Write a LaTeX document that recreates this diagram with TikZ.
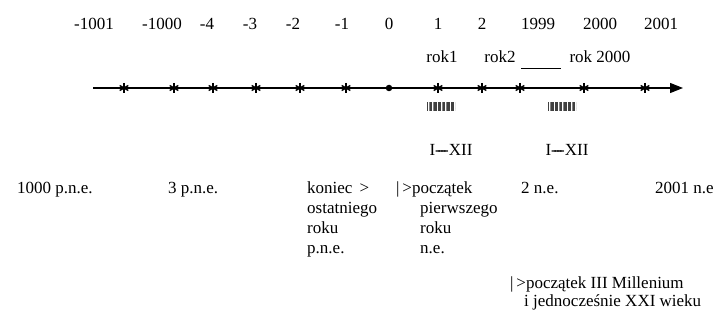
\documentclass[tikz,border=0pt]{standalone}
\usepackage{fontspec}
\setmainfont{Liberation Serif}
\usetikzlibrary{arrows.meta,patterns.meta}

% overlapping hyphens, so that a run of them reads as one stroke
\newcommand{\dsh}{-\kern-3pt}

\tikzset{
  txt/.style={inner sep=0pt, font=\fontsize{17}{20}\selectfont},
  yearlbl/.style={txt, anchor=base},
  desc/.style={txt, anchor=base west, align=left},
  starmark/.style={circle, minimum size=12pt, inner sep=0pt,
    path picture={
      \foreach \a/\b in {90/270,30/210,150/330}
        \draw[line width=1.4pt] ([shift={(\a:5pt)}]path picture bounding box.center)
                               -- ([shift={(\b:5pt)}]path picture bounding box.center);
    }},
  origin/.style={circle, fill=black, minimum size=6.5pt, inner sep=0pt},
  axis/.style={line width=1.1pt, -{Triangle[length=13pt,width=10pt]}},
  monthbar/.style={pattern={Lines[angle=90,distance=1.3pt,line width=0.8pt]},
                   pattern color=black!75},
}

\begin{document}
\begin{tikzpicture}[x=1pt,y=-1pt]
\useasboundingbox (0,0) rectangle (718,321);

% year numbers above the axis
\node[yearlbl] (yA) at (94,29.5)  {-1001};
\node[yearlbl] (yB) at (162,29.5) {-1000};
\node[yearlbl] (yC) at (207,29.5) {-4};
\node[yearlbl] (yD) at (250,29.5) {-3};
\node[yearlbl] (yE) at (293,29.5) {-2};
\node[yearlbl] (yF) at (342,29.5) {-1};
\node[yearlbl] (yG) at (389,29.5) {0};
\node[yearlbl] (yH) at (438,29.5) {1};
\node[yearlbl] (yI) at (482,29.5) {2};
\node[yearlbl] (yJ) at (538,29.5) {1999};
\node[yearlbl] (yK) at (600,29.5) {2000};
\node[yearlbl] (yL) at (661,29.5) {2001};

% names of the years
\node[yearlbl] (r1) at (442,63) {rok1};
\node[yearlbl] (r2) at (500,63) {rok2};
\node[yearlbl] (r3) at (600,63) {rok 2000};
\draw[line width=0.8pt] (521,68) -- (561,68);

% time axis
\coordinate (axstart) at (93,88);
\coordinate (axend) at (683,88);
\draw[axis] (axstart) -- (axend);

\node[starmark] (sA) at (124,88) {};
\node[starmark] (sB) at (174,88) {};
\node[starmark] (sC) at (213,88) {};
\node[starmark] (sD) at (256,88) {};
\node[starmark] (sE) at (300,88) {};
\node[starmark] (sF) at (346,88) {};
\node[origin]   (s0) at (389,88) {};
\node[starmark] (sH) at (438,88) {};
\node[starmark] (sI) at (482,88) {};
\node[starmark] (sJ) at (520,88) {};
\node[starmark] (sK) at (584,88) {};
\node[starmark] (sL) at (645,88) {};

% months of a year
\fill[monthbar] (427,103) rectangle (455,110);
\fill[monthbar] (548,103) rectangle (576,110);
\node[yearlbl] (m1) at (451,155) {I\dsh\dsh\dsh-XII};
\node[yearlbl] (m2) at (567,155) {I\dsh\dsh\dsh-XII};

% descriptions below (multi-line blocks are placed by their last baseline)
\node[desc] (dA) at (17,193)  {1000 p.n.e.};
\node[desc] (dB) at (168,193) {3 p.n.e.};
\node[desc] (dC) at (307,253) {koniec \,>\\ostatniego\\roku\\p.n.e.};
\node[desc] (dD) at (396,193) {|\,>początek};
\node[desc] (dE) at (420,253) {pierwszego\\roku\\n.e.};
\node[desc] (dF) at (521,193) {2 n.e.};
\node[desc] (dG) at (655,193) {2001 n.e};
\node[desc] (dH) at (510,288) {|\,>początek III Millenium};
\node[desc] (dI) at (524,306) {i jednocześnie XXI wieku};
\end{tikzpicture}
\end{document}
